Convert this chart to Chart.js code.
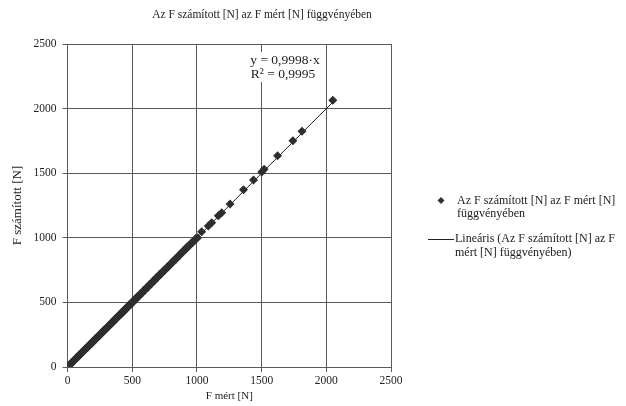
<!DOCTYPE html>
<html>
<head>
<meta charset="utf-8">
<script src="https://cdn.jsdelivr.net/npm/chart.js@4"></script>
<style>
  body { margin: 0; background: #fff; }
  #wrap { width: 626px; height: 406px; }
</style>
</head>
<body>
<div id="wrap"><canvas id="chart"></canvas></div>
<script>
// measured vs calculated force
const measured = [
  5, 12, 18, 25, 31, 38, 44, 52, 58, 65, 72, 80, 86, 95, 102, 110, 118, 125, 133, 140,
  148, 157, 165, 172, 180, 190, 198, 205, 214, 222, 230, 240, 248, 256, 265, 274, 282, 290, 300, 310,
  318, 326, 335, 345, 352, 362, 370, 380, 390, 398, 408, 415, 425, 432, 442, 450, 460, 470, 478, 488,
  498, 508, 520, 530, 540, 552, 562, 575, 585, 598, 610, 622, 635, 648, 660, 672, 685, 700, 712, 725,
  740, 752, 768, 780, 795, 810, 825, 840, 858, 870, 888, 905, 920, 938, 955, 972, 990, 1005,
  1036, 1088, 1114, 1165, 1191, 1256, 1360, 1437, 1501, 1519, 1623, 1742, 1812, 2050
];
const calculated = [
  8, 10, 20, 22, 34, 36, 47, 50, 61, 63, 75, 78, 90, 92, 105, 108, 121, 123, 137, 138,
  151, 154, 169, 170, 184, 186, 201, 203, 218, 219, 234, 237, 252, 253, 269, 271, 286, 287, 304, 306,
  322, 323, 339, 341, 357, 358, 375, 377, 394, 395, 412, 411, 430, 428, 447, 446, 465, 466, 483, 484,
  503, 504, 525, 526, 545, 548, 567, 571, 590, 594, 615, 618, 640, 644, 666, 668, 690, 696, 718, 721,
  745, 748, 773, 776, 800, 806, 831, 836, 863, 866, 893, 901, 926, 934, 960, 968, 995, 1001,
  1046, 1092, 1116, 1170, 1194, 1262, 1372, 1448, 1510, 1530, 1635, 1752, 1825, 2065
];
// linear trendline (y = 0,9998x) end points
const trendX = [0, 2050];
const trendY = [0, 2049.6];
const tickValues = [0, 500, 1000, 1500, 2000, 2500];

const titleText = "Az F számított [N] az F mért [N] függvényében";
const eqLines = ["y = 0,9998·x", "R² = 0,9995"];
const legendPoints = ["Az F számított [N] az F mért [N]", "függvényében"];
const legendLine = ["Lineáris (Az F számított [N] az F", "mért [N] függvényében)"];

const font = "Liberation Serif";
const gridColor = "#5a5a5a";

const extras = {
  id: "extras",
  afterDraw(chart) {
    const ctx = chart.ctx;
    ctx.save();
    ctx.fillStyle = "#222";
    ctx.textBaseline = "middle";

    // title
    ctx.font = "11.5px '" + font + "'";
    ctx.textAlign = "center";
    ctx.fillText(titleText, 262, 15);

    // trendline equation on a white label
    ctx.fillStyle = "#fff";
    ctx.fillRect(246, 52, 77, 30);
    ctx.fillStyle = "#222";
    ctx.font = "13.5px '" + font + "'";
    ctx.textAlign = "center";
    ctx.fillText(eqLines[0], 285, 60);
    ctx.fillText(eqLines[1], 283, 74);

    // legend
    ctx.font = "12px '" + font + "'";
    ctx.textAlign = "left";
    ctx.fillStyle = "#333";
    ctx.beginPath();
    ctx.moveTo(441, 197);
    ctx.lineTo(444.5, 200.5);
    ctx.lineTo(441, 204);
    ctx.lineTo(437.5, 200.5);
    ctx.closePath();
    ctx.fill();
    ctx.fillStyle = "#222";
    ctx.fillText(legendPoints[0], 457, 201);
    ctx.fillText(legendPoints[1], 457, 214);

    ctx.strokeStyle = "#222";
    ctx.lineWidth = 1;
    ctx.beginPath();
    ctx.moveTo(428, 239.5);
    ctx.lineTo(454, 239.5);
    ctx.stroke();
    ctx.fillText(legendLine[0], 455, 239);
    ctx.fillText(legendLine[1], 455, 253);
    ctx.restore();
  }
};

new Chart(document.getElementById("chart"), {
  type: "scatter",
  data: {
    datasets: [
      {
        label: "points",
        data: measured.map((x, i) => ({ x: x, y: calculated[i] })),
        pointStyle: "rectRot",
        pointRadius: 4.5,
        backgroundColor: "#2e2e2e",
        borderColor: "#2e2e2e",
        borderWidth: 0,
      },
      {
        label: "trend",
        type: "line",
        data: trendX.map((x, i) => ({ x: x, y: trendY[i] })),
        borderColor: "#222",
        borderWidth: 1,
        pointRadius: 0,
      },
    ],
  },
  options: {
    responsive: true,
    maintainAspectRatio: false,
    animation: false,
    layout: { padding: { top: 44, right: 235, bottom: 3, left: 10 } },
    plugins: {
      legend: { display: false },
      tooltip: { enabled: false },
    },
    scales: {
      x: {
        type: "linear",
        min: 0,
        max: 2500,
        afterBuildTicks: (axis) => { axis.ticks = tickValues.map((v) => ({ value: v })); },
        grid: { color: gridColor, tickLength: 5, lineWidth: 1 },
        border: { color: gridColor },
        ticks: { color: "#222", font: { family: font, size: 11.5 }, padding: 2, callback: (v) => String(v) },
        title: { display: true, text: "F mért [N]", color: "#222", font: { family: font, size: 11 }, padding: { top: 0, bottom: 0 } },
      },
      y: {
        type: "linear",
        min: 0,
        max: 2500,
        afterBuildTicks: (axis) => { axis.ticks = tickValues.map((v) => ({ value: v })); },
        grid: { color: gridColor, tickLength: 5, lineWidth: 1 },
        border: { color: gridColor },
        ticks: { color: "#222", font: { family: font, size: 11.5 }, padding: 6, callback: (v) => String(v) },
        title: { display: true, text: "F számított [N]", color: "#222", font: { family: font, size: 13 }, padding: { top: 0, bottom: 2 } },
      },
    },
  },
  plugins: [extras],
});
</script>
</body>
</html>
